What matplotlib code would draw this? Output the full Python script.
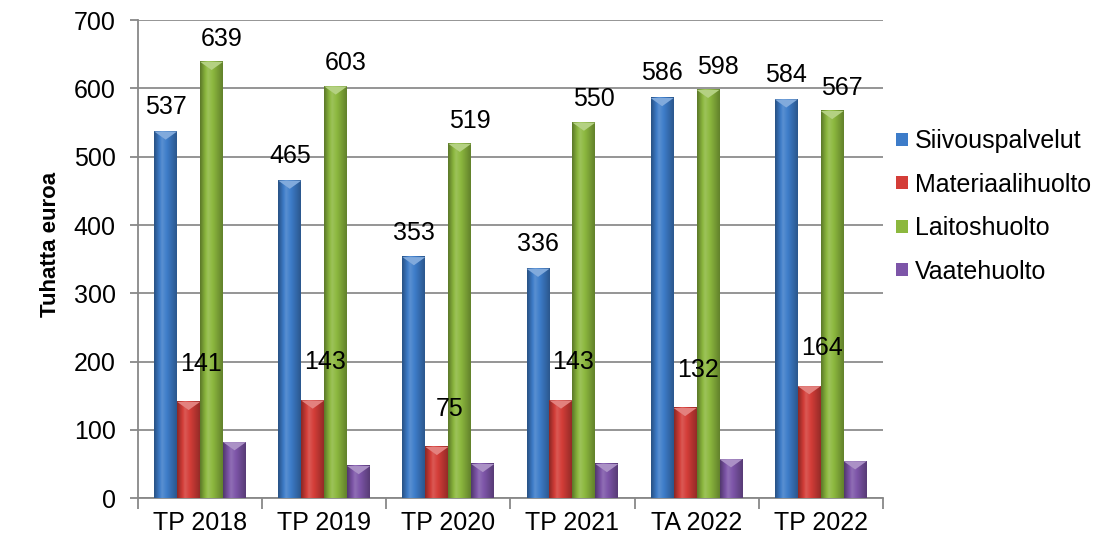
import numpy as np
import matplotlib.pyplot as plt
from matplotlib.colors import to_rgb
from matplotlib.patches import Patch

plt.rcParams['font.family'] = ['Liberation Sans', 'DejaVu Sans']

categories = ['TP 2018', 'TP 2019', 'TP 2020', 'TP 2021', 'TA 2022', 'TP 2022']
series = ['Siivouspalvelut', 'Materiaalihuolto', 'Laitoshuolto', 'Vaatehuolto']
siivous = [537, 465, 353, 336, 586, 584]
materiaali = [141, 143, 75, 143, 132, 164]
laitos = [639, 603, 519, 550, 598, 567]
vaate = [82, 47, 50, 50, 57, 54]
values = [siivous, materiaali, laitos, vaate]
show_labels = [True, True, True, False]

colors = ['#3d7cc9', '#d43d38', '#8cb83e', '#7d55a8']

fig = plt.figure(figsize=(11, 5.45), dpi=100)
ax = fig.add_axes([0.1255, 0.086, 0.677, 0.877])

width = 0.185
x = np.arange(len(categories))


def shade(c, k):
    r = np.array(to_rgb(c))
    if k < 0:
        return r * (1 + k)
    return r + (1 - r) * k


# horizontal gradient across each bar (dark edges, lighter middle)
t = np.linspace(0, 1, 64)
prof = np.where(t < 0.35, -0.35 + t / 0.35 * 0.5, 0.15 - (t - 0.35) / 0.65 * 0.45)

for s, vals in enumerate(values):
    base = colors[s]
    grad = np.array([shade(base, k) for k in prof])[None, :, :]
    for i, v in enumerate(vals):
        x0 = x[i] - 2 * width + s * width
        ax.bar(x0, v, width, align='edge', color=base, zorder=2)
        ax.imshow(grad, extent=(x0, x0 + width, 0, v), aspect='auto', zorder=3,
                  interpolation='bicubic')
        # small highlight triangle at top
        tri_h = 12
        ax.fill([x0, x0 + width, x0 + width / 2], [v, v, v - tri_h],
                color=shade(base, 0.35), zorder=4, lw=0)
        if show_labels[s]:
            dx = 0
            dy = 36
            if s == 1:
                dx = 0.1
                dy = 56
            elif s == 2:
                dx = 0.08
                dy = 34
            ax.text(x0 + width / 2 + dx, v + dy, str(v), ha='center', va='center',
                    fontsize=18, color='black', zorder=5)

ax.set_xlim(-0.5, len(categories) - 0.5)
ax.set_ylim(0, 700)
ax.set_yticks(range(0, 701, 100))
ax.set_xticks(x)
ax.set_xticklabels(categories)
ax.set_xticks(np.arange(-0.5, len(categories), 1), minor=True)
ax.tick_params(axis='x', which='major', length=0, labelsize=18, pad=9)
ax.tick_params(axis='x', which='minor', length=8, color='#888888', direction='out', width=1.3)
ax.tick_params(axis='y', length=6, color='#888888', labelsize=18, pad=10, width=1.3)
ax.yaxis.grid(True, color='#8c8c8c', lw=1.3, zorder=0)
ax.set_axisbelow(True)
for sp in ['top', 'right']:
    ax.spines[sp].set_visible(False)
ax.spines['left'].set_color('#888888')
ax.spines['bottom'].set_color('#888888')
ax.spines['left'].set_linewidth(1.3)
ax.spines['bottom'].set_linewidth(1.3)
ax.set_ylabel('Tuhatta euroa', fontsize=16, fontweight='bold')
ax.yaxis.set_label_coords(-0.104, 0.531)

handles = [Patch(facecolor=c) for c in colors]
fig.legend(handles, series, loc='upper left', bbox_to_anchor=(0.815, 0.763),
           frameon=False, fontsize=18, handlelength=0.45, handleheight=0.45,
           handletextpad=0.3, labelspacing=0.78, borderpad=0, borderaxespad=0)

fig.savefig('out.png', dpi=100)
